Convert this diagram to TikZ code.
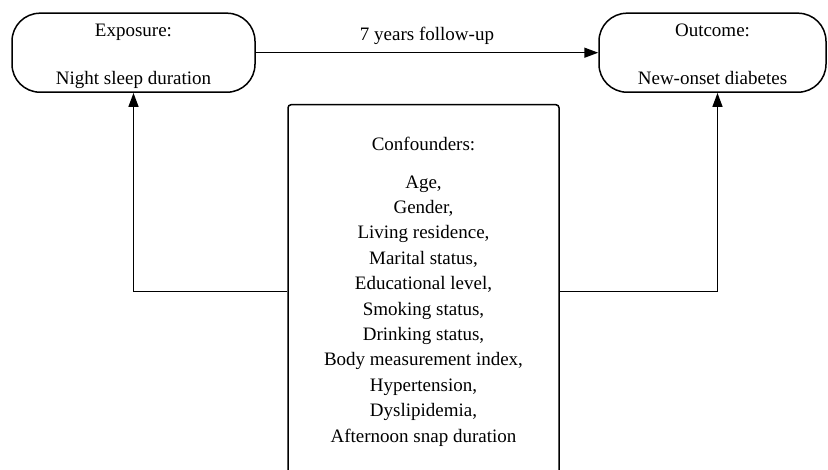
\documentclass[tikz,border=0pt]{standalone}
\usepackage{fontspec}
\setmainfont{Liberation Serif}
\newfontfamily\serifface{Liberation Serif}
\usetikzlibrary{arrows.meta}

\begin{document}
\begin{tikzpicture}[x=1pt,y=-1pt,
    font=\serifface\fontsize{19}{25.4}\selectfont,
    termbox/.style={draw,line width=1.5pt,rounded corners=28pt,align=center,
      minimum height=79pt,inner sep=0pt},
    confbox/.style={draw,line width=1.5pt,rounded corners=3pt,align=center,
      minimum width=271pt,inner xsep=0pt,inner ysep=32pt},
    flow/.style={line width=1.5pt,-{Triangle[length=14pt,width=10pt]}}]
            \clip (0,0) rectangle (828,470);
            \node[termbox,minimum width=243pt] (exp) at (133.5,52.7)
                {\rule{0pt}{20pt}Exposure:\\[22.6pt]Night sleep duration\rule[-4.5pt]{0pt}{4.5pt}};
            \node[termbox,minimum width=227pt] (out) at (712.5,52.7)
                {\rule{0pt}{20pt}Outcome:\\[22.6pt]New-onset diabetes\rule[-4.5pt]{0pt}{4.5pt}};
            \node[confbox,anchor=north] (conf) at (423.5,104)
                {Confounders:\\[12.6pt]Age,\\Gender,\\Living residence,\\
                 Marital status,\\Educational level,\\Smoking status,\\
                 Drinking status,\\Body measurement index,\\Hypertension,\\
                 Dyslipidemia,\\Afternoon snap duration};
            \draw[flow] (exp) -- node[above=4pt] {7 years follow-up} (out);
            \draw[flow] (conf.west) -| (exp.south);
            \draw[flow] (conf.east) -| ([xshift=5pt]out.south);
        \end{tikzpicture}
\end{document}
